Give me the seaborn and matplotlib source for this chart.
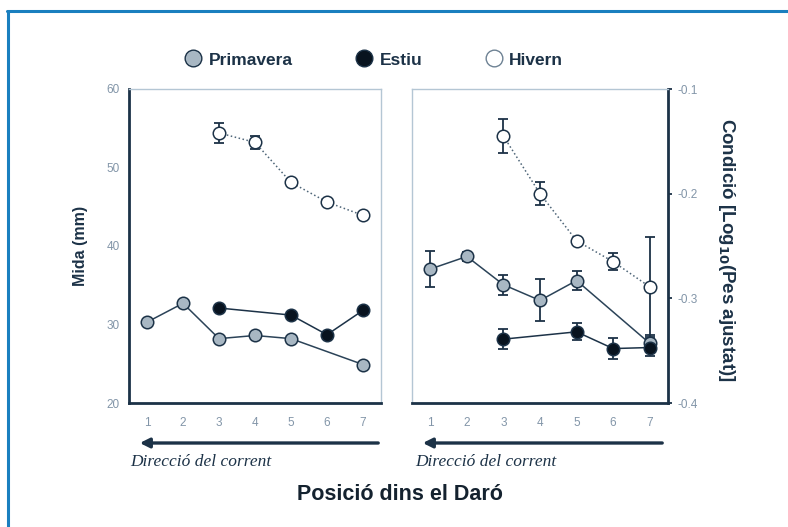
import numpy as np
import pandas as pd
import seaborn as sns
import matplotlib.pyplot as plt
from matplotlib.lines import Line2D

sns.set_theme(style="white")
plt.rcParams['font.family'] = ['Liberation Sans', 'DejaVu Sans']

pos = [1, 2, 3, 4, 5, 6, 7]
seasons = ["Primavera", "Estiu", "Hivern"]

# left panel: Mida (mm)
mida_prim = [30.3, 32.7, 28.2, 28.6, 28.2, np.nan, 24.9]
mida_estiu = [np.nan, np.nan, 32.1, np.nan, 31.2, 28.7, 31.8]
mida_hiv = [np.nan, np.nan, 54.4, 53.2, 48.1, 45.6, 43.9]
mida_hiv_err = [np.nan, np.nan, 1.3, 0.8, 0.3, 0.3, 0.3]

# right panel: Condicio
cond_prim = [-0.272, -0.260, -0.287, -0.302, -0.283, np.nan, -0.343]
cond_prim_err = [0.0175, 0.004, 0.0095, 0.020, 0.009, np.nan, 0.008]
cond_estiu = [np.nan, np.nan, -0.339, np.nan, -0.332, -0.348, -0.347]
cond_estiu_err = [np.nan, np.nan, 0.0096, np.nan, 0.008, 0.010, 0.008]
cond_hiv = [np.nan, np.nan, -0.145, -0.200, -0.245, -0.265, -0.289]
cond_hiv_err = [np.nan, np.nan, 0.0166, 0.011, 0.003, 0.008, 0.048]

dark = "#1c3247"
light = "#b4c6d4"
tickc = "#8295a8"
fills = {"Primavera": "#a8b7c3", "Estiu": "#08131f", "Hivern": "white"}
lstyle = {"Primavera": "-", "Estiu": "-", "Hivern": ":"}
lcol = {"Primavera": "#2b4358", "Estiu": "#1c3247", "Hivern": "#4e6578"}

fig = plt.figure(figsize=(7.88, 5.27), dpi=100)
W, H = 788, 527
axL = fig.add_axes([129 / W, 1 - 403 / H, 252 / W, 314 / H])
axR = fig.add_axes([412 / W, 1 - 403 / H, 256 / W, 314 / H])


def draw(ax, series, errs):
    for s in seasons:
        df = pd.DataFrame({"pos": pos, "val": series[s]}).dropna()
        if s in errs:
            e = pd.DataFrame({"pos": pos, "val": series[s], "err": errs[s]}).dropna()
            ax.errorbar(e["pos"], e["val"], yerr=e["err"], fmt="none",
                        ecolor=dark, elinewidth=1.3, capsize=3.5, capthick=1.3, zorder=2)
        sns.lineplot(data=df, x="pos", y="val", ax=ax, color=lcol[s],
                     linestyle=lstyle[s], linewidth=1.1, marker="o", markersize=9,
                     markerfacecolor=fills[s], markeredgecolor=dark,
                     markeredgewidth=1.1, errorbar=None, zorder=3)
    ax.set_xlabel("")
    ax.set_ylabel("")
    ax.set_xlim(0.5, 7.5)
    ax.set_xticks([1.5, 2.5, 3.5, 4.5, 5.5, 6.5, 7.5])
    ax.set_xticklabels([])
    ax.set_xticks(pos, minor=True)
    ax.set_xticklabels([str(p) for p in pos], minor=True)
    ax.tick_params(axis="x", which="major", direction="in", length=4, width=1.3, color=dark)
    ax.tick_params(axis="x", which="minor", length=0, pad=10, labelsize=8.5, labelcolor=tickc)
    ax.tick_params(axis="y", direction="out", length=3, width=1.3, color=dark,
                   labelsize=8.5, labelcolor=tickc)
    for sp in ax.spines.values():
        sp.set_color(light)
        sp.set_linewidth(1)
    ax.spines["bottom"].set_color(dark)
    ax.spines["bottom"].set_linewidth(2)


draw(axL, {"Primavera": mida_prim, "Estiu": mida_estiu, "Hivern": mida_hiv},
     {"Hivern": mida_hiv_err})
axL.set_ylim(20, 60)
axL.set_yticks([20, 30, 40, 50, 60])
axL.spines["left"].set_color(dark)
axL.spines["left"].set_linewidth(2)

draw(axR, {"Primavera": cond_prim, "Estiu": cond_estiu, "Hivern": cond_hiv},
     {"Primavera": cond_prim_err, "Estiu": cond_estiu_err, "Hivern": cond_hiv_err})
axR.set_ylim(-0.4, -0.1)
axR.set_yticks([-0.4, -0.3, -0.2, -0.1])
axR.set_yticklabels(["-0.4", "-0.3", "-0.2", "-0.1"])
axR.yaxis.tick_right()
axR.spines["right"].set_color(dark)
axR.spines["right"].set_linewidth(2)

fig.text(80 / W, 1 - 246 / H, "Mida (mm)", rotation=90, ha="center", va="center",
         fontsize=11.5, fontweight="bold", color=dark)
fig.text(727 / W, 1 - 250 / H, r"Condició [Log$_{\mathbf{10}}$(Pes ajustat)]",
         rotation=-90, ha="center", va="center", fontsize=13.5, fontweight="bold", color=dark)

# legend
handles = [Line2D([], [], linestyle="none", marker="o", markersize=12,
                  markerfacecolor=fills[s], markeredgecolor=dark if s != "Hivern" else "#6e8294",
                  markeredgewidth=1) for s in seasons]
fig.legend(handles, seasons, loc="center", bbox_to_anchor=(373 / W, 1 - 60 / H), ncol=3,
           frameon=False, handlelength=1.2, handletextpad=0.3, columnspacing=3.5,
           prop={"weight": "bold", "size": 12.5}, labelcolor=dark)

# direction arrows
for x0, x1, xt in [(381, 137, 130), (665, 420, 415)]:
    fig.add_artist(plt.Annotation("", xy=(x1 / W, 1 - 443 / H), xytext=(x0 / W, 1 - 443 / H),
                                  xycoords="figure fraction", textcoords="figure fraction",
                                  arrowprops=dict(arrowstyle="-|>", color=dark, lw=2.4,
                                                  mutation_scale=14)))
    fig.text(xt / W, 1 - 462 / H, "Direcció del corrent", ha="left", va="center",
             fontsize=12.5, style="italic", color=dark,
             family=["Liberation Serif", "DejaVu Serif"])

fig.text(400 / W, 1 - 494 / H, "Posició dins el Daró", ha="center", va="center",
         fontsize=15.5, fontweight="bold", color="#14222f")

# blue frame
fig.add_artist(Line2D([7 / W, 1], [1 - 11 / H, 1 - 11 / H], color="#1a7fbf", lw=2.2))
fig.add_artist(Line2D([8 / W, 8 / W], [0, 1 - 11 / H], color="#1a7fbf", lw=2.2))

fig.savefig("out.png", dpi=100)
